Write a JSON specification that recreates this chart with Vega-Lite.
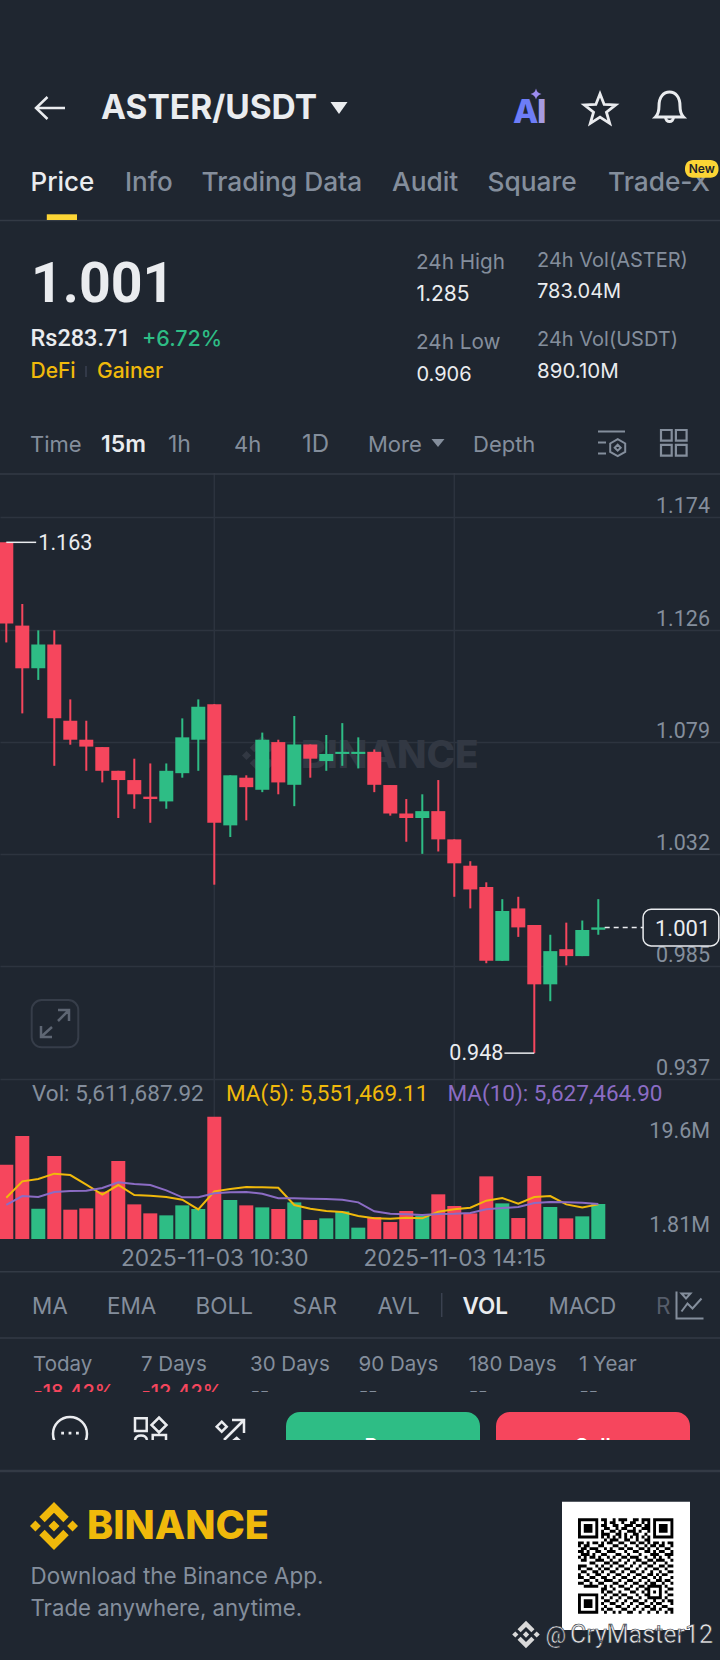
{"$schema":"https://vega.github.io/schema/vega-lite/v6.json","width":720,"height":1660,"padding":0,"autosize":{"type":"none"},"background":"#1f2630","view":{"stroke":null},
"config":{"view":{"stroke":null},"text":{"font":"Inter","baseline":"alphabetic","align":"left"},"axis":{"labelFont":"Inter"}},
"data":{"values":[{}]},
"datasets":{"candles":[
{"time":"2025-11-03T07:15","side":"down","open":1.1632,"high":1.1632,"low":1.1210,"close":1.1290,"vol":11910000,"ma5":6620000,"ma10":5450000},
{"time":"2025-11-03T07:30","side":"down","open":1.1281,"high":1.1372,"low":1.0911,"close":1.1101,"vol":16500000,"ma5":9240000,"ma10":6890000},
{"time":"2025-11-03T07:45","side":"up","open":1.1101,"high":1.1261,"low":1.1052,"close":1.1201,"vol":4860000,"ma5":9610000,"ma10":6730000},
{"time":"2025-11-03T08:00","side":"down","open":1.1201,"high":1.1261,"low":1.0690,"close":1.0890,"vol":13300000,"ma5":10470000,"ma10":7530000},
{"time":"2025-11-03T08:15","side":"down","open":1.0880,"high":1.0970,"low":1.0779,"close":1.0800,"vol":4700000,"ma5":10250000,"ma10":7690000},
{"time":"2025-11-03T08:30","side":"down","open":1.0800,"high":1.0880,"low":1.0669,"close":1.0771,"vol":4910000,"ma5":8710000,"ma10":7740000},
{"time":"2025-11-03T08:45","side":"down","open":1.0769,"high":1.0769,"low":1.0620,"close":1.0669,"vol":7580000,"ma5":7100000,"ma10":8170000},
{"time":"2025-11-03T09:00","side":"down","open":1.0669,"high":1.0669,"low":1.0470,"close":1.0630,"vol":12500000,"ma5":8650000,"ma10":9080000},
{"time":"2025-11-03T09:15","side":"down","open":1.0630,"high":1.0720,"low":1.0509,"close":1.0570,"vol":5550000,"ma5":7050000,"ma10":8810000},
{"time":"2025-11-03T09:30","side":"down","open":1.0560,"high":1.0700,"low":1.0450,"close":1.0550,"vol":4110000,"ma5":6940000,"ma10":8650000},
{"time":"2025-11-03T09:45","side":"up","open":1.0540,"high":1.0700,"low":1.0509,"close":1.0669,"vol":3790000,"ma5":6730000,"ma10":7800000},
{"time":"2025-11-03T10:00","side":"up","open":1.0659,"high":1.0890,"low":1.0640,"close":1.0810,"vol":5390000,"ma5":6300000,"ma10":6680000},
{"time":"2025-11-03T10:15","side":"up","open":1.0800,"high":1.0970,"low":1.0669,"close":1.0939,"vol":4810000,"ma5":4750000,"ma10":6680000},
{"time":"2025-11-03T10:30","side":"down","open":1.0950,"high":1.0950,"low":1.0189,"close":1.0450,"vol":19600000,"ma5":7640000,"ma10":7320000},
{"time":"2025-11-03T10:45","side":"up","open":1.0439,"high":1.0650,"low":1.0390,"close":1.0650,"vol":6250000,"ma5":8010000,"ma10":7480000},
{"time":"2025-11-03T11:00","side":"down","open":1.0640,"high":1.0650,"low":1.0460,"close":1.0600,"vol":5390000,"ma5":8330000,"ma10":7530000},
{"time":"2025-11-03T11:15","side":"up","open":1.0589,"high":1.0830,"low":1.0579,"close":1.0800,"vol":5070000,"ma5":8280000,"ma10":7260000},
{"time":"2025-11-03T11:30","side":"down","open":1.0790,"high":1.0800,"low":1.0570,"close":1.0620,"vol":4810000,"ma5":8220000,"ma10":6520000},
{"time":"2025-11-03T11:45","side":"up","open":1.0610,"high":1.0900,"low":1.0520,"close":1.0780,"vol":5870000,"ma5":5450000,"ma10":6520000},
{"time":"2025-11-03T12:00","side":"down","open":1.0780,"high":1.0780,"low":1.0640,"close":1.0720,"vol":3040000,"ma5":4860000,"ma10":6460000},
{"time":"2025-11-03T12:15","side":"up","open":1.0710,"high":1.0820,"low":1.0669,"close":1.0740,"vol":3310000,"ma5":4490000,"ma10":6410000},
{"time":"2025-11-03T12:30","side":"up","open":1.0740,"high":1.0870,"low":1.0690,"close":1.0749,"vol":4430000,"ma5":4330000,"ma10":6300000},
{"time":"2025-11-03T12:45","side":"up","open":1.0740,"high":1.0810,"low":1.0679,"close":1.0749,"vol":1820000,"ma5":3680000,"ma10":5870000},
{"time":"2025-11-03T13:00","side":"down","open":1.0749,"high":1.0759,"low":1.0579,"close":1.0610,"vol":3520000,"ma5":3310000,"ma10":4430000},
{"time":"2025-11-03T13:15","side":"down","open":1.0609,"high":1.0609,"low":1.0480,"close":1.0489,"vol":2720000,"ma5":3260000,"ma10":4060000},
{"time":"2025-11-03T13:30","side":"down","open":1.0489,"high":1.0550,"low":1.0370,"close":1.0470,"vol":4490000,"ma5":3420000,"ma10":3950000},
{"time":"2025-11-03T13:45","side":"up","open":1.0470,"high":1.0570,"low":1.0319,"close":1.0499,"vol":3740000,"ma5":3310000,"ma10":3850000},
{"time":"2025-11-03T14:00","side":"down","open":1.0499,"high":1.0630,"low":1.0329,"close":1.0380,"vol":7160000,"ma5":4380000,"ma10":4010000},
{"time":"2025-11-03T14:15","side":"down","open":1.0380,"high":1.0380,"low":1.0138,"close":1.0279,"vol":5290000,"ma5":4750000,"ma10":4060000},
{"time":"2025-11-03T14:30","side":"down","open":1.0269,"high":1.0288,"low":1.0089,"close":1.0169,"vol":4110000,"ma5":5020000,"ma10":4170000},
{"time":"2025-11-03T14:45","side":"down","open":1.0179,"high":1.0199,"low":0.9858,"close":0.9868,"vol":10040000,"ma5":6140000,"ma10":4750000},
{"time":"2025-11-03T15:00","side":"up","open":0.9868,"high":1.0128,"low":0.9868,"close":1.0078,"vol":5710000,"ma5":6570000,"ma10":4970000},
{"time":"2025-11-03T15:15","side":"down","open":1.0089,"high":1.0138,"low":0.9969,"close":1.0009,"vol":3360000,"ma5":5660000,"ma10":5130000},
{"time":"2025-11-03T15:30","side":"down","open":1.0019,"high":1.0019,"low":0.9479,"close":0.9769,"vol":10090000,"ma5":6730000,"ma10":5770000},
{"time":"2025-11-03T15:45","side":"up","open":0.9769,"high":0.9978,"low":0.9698,"close":0.9909,"vol":5130000,"ma5":6890000,"ma10":5930000},
{"time":"2025-11-03T16:00","side":"down","open":0.9917,"high":1.0029,"low":0.9849,"close":0.9888,"vol":3310000,"ma5":5550000,"ma10":5870000},
{"time":"2025-11-03T16:15","side":"up","open":0.9888,"high":1.0038,"low":0.9888,"close":0.9998,"vol":3630000,"ma5":5070000,"ma10":5820000},
{"time":"2025-11-03T16:30","side":"up","open":0.9999,"high":1.0128,"low":0.9978,"close":1.0009,"vol":5611687.92,"ma5":5551469.11,"ma10":5627464.90}
]},
"resolve":{"scale":{"x":"independent","y":"independent"}},
"layer":[
{"layer":[
{"mark":{"type":"text","fontSize":38.6,"fontWeight":800,"color":"#323843"},"encoding":{"x":{"datum":301,"axis":null,"scale":{"domain":[0,720],"range":[0,720],"nice":false}},"y":{"datum":768,"axis":null,"scale":{"domain":[0,1660],"range":[0,1660],"nice":false}},"text":{"value":"BINANCE"}}},
{"mark":{"type":"point","shape":"M-24.57 -10.1 L0 -34.66 L24.58 -10.08 L38.88 -24.38 L0 -63.3 L-38.87 -24.43 Z M-63.3 0 L-49 -14.3 L-34.7 0 L-49 14.3 Z M-24.57 10.11 L0 34.67 L24.58 10.09 L38.88 24.39 L0 63.3 L-38.87 24.44 Z M34.7 0 L49 -14.3 L63.3 0 L49 14.3 Z M14.53 0 L0 -14.52 L-14.53 0 L0 14.53 Z","size":0.4,"filled":true,"opacity":1,"color":"#323843"},"encoding":{"x":{"datum":262,"axis":null},"y":{"datum":755.5,"axis":null}}}
]},
{"layer":[
{"data":{"values":[{"time":"2025-11-03T10:30"},{"time":"2025-11-03T14:15"}]},"mark":{"type":"rule","color":"#2d343f","strokeWidth":1.4},"encoding":{"x":{"field":"time","type":"temporal","scale":{"domain":["2025-11-03T07:09:06","2025-11-03T18:24:06"],"range":[0,720],"padding":0},"axis":{"orient":"bottom","offset":-421,"values":[{"year":2025,"month":11,"date":3,"hours":10,"minutes":30},{"year":2025,"month":11,"date":3,"hours":14,"minutes":15}],"format":"%Y-%m-%d %H:%M","grid":false,"ticks":false,"domain":false,"labelPadding":26,"labelBaseline":"alphabetic","labelFontSize":22.6,"labelLimit":400,"labelColor":"#848e9c","labelOverlap":false,"labelFlush":false,"title":null}},"y":{"datum":1.1924,"axis":{"orient":"right","values":[1.174,1.1264,1.0792,1.0318,0.9846,0.937],"format":".3f","grid":true,"gridColor":"#2d343f","gridWidth":1.4,"ticks":false,"domain":false,"labelAlign":"right","labelBaseline":"alphabetic","labelPadding":-10.5,"labelOffset":-4.5,"labelFont":"Roboto","labelFontSize":21.5,"labelColor":"#848e9c","title":null},"scale":{"domain":[0.937,1.174],"range":[1079,516.7],"zero":false,"nice":false}},"y2":{"datum":0.8695}}},
{"data":{"name":"candles"},"mark":{"type":"rule","strokeWidth":2},"encoding":{"x":{"field":"time","type":"temporal"},"y":{"field":"high","type":"quantitative"},"y2":{"field":"low"},"color":{"field":"side","type":"nominal","legend":null,"scale":{"domain":["up","down"],"range":["#2ebd85","#f6465d"]}}}},
{"data":{"name":"candles"},"mark":{"type":"bar","size":14},"encoding":{"x":{"field":"time","type":"temporal"},"y":{"field":"open","type":"quantitative"},"y2":{"field":"close"},"color":{"field":"side","type":"nominal","legend":null}}},
{"data":{"values":[{"time":"2025-11-03T07:15","end":"2025-11-03T07:43","price":1.1632},{"time":"2025-11-03T15:02","end":"2025-11-03T15:30","price":0.9479}]},"mark":{"type":"rule","color":"#eaecef","strokeWidth":1.5},"encoding":{"x":{"field":"time","type":"temporal"},"x2":{"field":"end"},"y":{"field":"price","type":"quantitative"}}},
{"data":{"values":[{"time":"2025-11-03T07:45","price":1.1632,"label":"1.163"}]},"mark":{"type":"text","font":"Roboto","fontSize":21.5,"color":"#eaecef","dy":7.5},"encoding":{"x":{"field":"time","type":"temporal"},"y":{"field":"price","type":"quantitative"},"text":{"field":"label"}}},
{"data":{"values":[{"time":"2025-11-03T15:01","price":0.9479,"label":"0.948"}]},"mark":{"type":"text","font":"Roboto","fontSize":21.5,"color":"#eaecef","align":"right","dy":7},"encoding":{"x":{"field":"time","type":"temporal"},"y":{"field":"price","type":"quantitative"},"text":{"field":"label"}}},
{"data":{"values":[{"time":"2025-11-03T16:36","end":"2025-11-03T17:12","price":1.0009}]},"mark":{"type":"rule","color":"#eaecef","strokeWidth":1.5,"strokeDash":[5,4]},"encoding":{"x":{"field":"time","type":"temporal"},"x2":{"field":"end"},"y":{"field":"price","type":"quantitative"}}},
{"data":{"values":[{"time":"2025-11-03T17:12","end":"2025-11-03T18:23","top":1.0085,"bottom":0.9931}]},"mark":{"type":"rect","fill":"#1f2630","stroke":"#eaecef","strokeWidth":1.5,"cornerRadius":8},"encoding":{"x":{"field":"time","type":"temporal"},"x2":{"field":"end"},"y":{"field":"top","type":"quantitative"},"y2":{"field":"bottom"}}}
]},
{"data":{"name":"candles"},"layer":[
{"mark":{"type":"bar","size":14},"encoding":{"x":{"field":"time","type":"temporal","axis":null,"scale":{"domain":["2025-11-03T07:09:06","2025-11-03T18:24:06"],"range":[0,720],"padding":0}},"y":{"field":"vol","type":"quantitative","scale":{"domain":[0,19600000],"range":[1239,1116.7],"nice":false},"axis":{"orient":"right","values":[19600000,1810000],"labelExpr":"format(datum.value/1000000,'.3~r')+'M'","grid":false,"ticks":false,"domain":false,"labelAlign":"right","labelBaseline":"middle","labelPadding":-10.5,"labelOffset":{"expr":"datum.value>10000000?15:-2"},"labelFont":"Roboto","labelFontSize":21.5,"labelColor":"#848e9c","title":null}},"color":{"field":"side","type":"nominal","legend":null,"scale":{"domain":["up","down"],"range":["#2ebd85","#f6465d"]}}}},
{"mark":{"type":"line","color":"#f0b90b","strokeWidth":2},"encoding":{"x":{"field":"time","type":"temporal","axis":null},"y":{"field":"ma5","type":"quantitative"}}},
{"mark":{"type":"line","color":"#8b6cc4","strokeWidth":2},"encoding":{"x":{"field":"time","type":"temporal","axis":null},"y":{"field":"ma10","type":"quantitative"}}}
]},
{"layer":[
{"mark":{"type":"text","fontSize":33.5,"fontWeight":700,"color":"#eaecef"},"encoding":{"x":{"datum":101,"axis":null,"scale":{"domain":[0,720],"range":[0,720],"nice":false}},"y":{"datum":119.3,"axis":null,"scale":{"domain":[0,1660],"range":[0,1660],"nice":false}},"text":{"value":"ASTER/USDT"}}},
{"mark":{"type":"point","shape":"M-14.5 0 H14.5 M-3 -11 L-14.5 0 L-3 11","size":4,"filled":false,"opacity":1,"color":"#eaecef","strokeWidth":2.5},"encoding":{"x":{"datum":50.5,"axis":null},"y":{"datum":108,"axis":null}}},
{"mark":{"type":"point","shape":"M-8.5 -6 H8.5 L0 6 Z","size":4,"filled":true,"opacity":1,"color":"#eaecef"},"encoding":{"x":{"datum":339,"axis":null},"y":{"datum":108,"axis":null}}},
{"mark":{"type":"text","fontSize":33,"fontWeight":800,"color":"#6d7df7"},"encoding":{"x":{"datum":513,"axis":null},"y":{"datum":123,"axis":null},"text":{"value":"A"}}},
{"mark":{"type":"text","fontSize":33,"fontWeight":800,"color":"#a79be0"},"encoding":{"x":{"datum":537,"axis":null},"y":{"datum":123,"axis":null},"text":{"value":"I"}}},
{"mark":{"type":"point","shape":"M0 -5.5 Q1 -1 5.5 0 Q1 1 0 5.5 Q-1 1 -5.5 0 Q-1 -1 0 -5.5 Z","size":4,"filled":true,"opacity":1,"color":"#9c8cf0"},"encoding":{"x":{"datum":536,"axis":null},"y":{"datum":94,"axis":null}}},
{"mark":{"type":"point","shape":"M0 -17 L4.5 -5.5 L17 -5 L7 3 L10.5 15 L0 8.3 L-10.5 15 L-7 3 L-17 -5 L-4.5 -5.5 Z","size":3.4,"filled":false,"opacity":1,"color":"#eaecef","strokeWidth":2.8},"encoding":{"x":{"datum":600,"axis":null},"y":{"datum":109.5,"axis":null}}},
{"mark":{"type":"point","shape":"M-14 9 C-11 6 -10.5 3 -10.5 -2 C-10.5 -11 -6 -16 0 -16 C6 -16 10.5 -11 10.5 -2 C10.5 3 11 6 14 9 Z M-4 9 C-4 15 4 15 4 9","size":4,"filled":false,"opacity":1,"color":"#eaecef","strokeWidth":3},"encoding":{"x":{"datum":669.5,"axis":null},"y":{"datum":108,"axis":null}}},
{"mark":{"type":"text","fontSize":26,"fontWeight":500,"color":"#eaecef"},"encoding":{"x":{"datum":30.5,"axis":null},"y":{"datum":191,"axis":null},"text":{"value":"Price"}}},
{"mark":{"type":"text","fontSize":26,"fontWeight":500,"color":"#848e9c"},"encoding":{"x":{"datum":125,"axis":null},"y":{"datum":191,"axis":null},"text":{"value":"Info"}}},
{"mark":{"type":"text","fontSize":26.3,"fontWeight":500,"color":"#848e9c"},"encoding":{"x":{"datum":201.5,"axis":null},"y":{"datum":191,"axis":null},"text":{"value":"Trading Data"}}},
{"mark":{"type":"text","fontSize":26.3,"fontWeight":500,"color":"#848e9c"},"encoding":{"x":{"datum":392,"axis":null},"y":{"datum":191,"axis":null},"text":{"value":"Audit"}}},
{"mark":{"type":"text","fontSize":26.3,"fontWeight":500,"color":"#848e9c"},"encoding":{"x":{"datum":487.5,"axis":null},"y":{"datum":191,"axis":null},"text":{"value":"Square"}}},
{"mark":{"type":"text","fontSize":26.3,"fontWeight":500,"color":"#848e9c"},"encoding":{"x":{"datum":608,"axis":null},"y":{"datum":191,"axis":null},"text":{"value":"Trade-X"}}},
{"mark":{"type":"rect","fill":"#fcd535","cornerRadius":8},"encoding":{"x":{"datum":685,"axis":null},"x2":{"datum":718.5},"y":{"datum":160,"axis":null},"y2":{"datum":177.7}}},
{"mark":{"type":"text","fontSize":12,"fontWeight":600,"color":"#1e2329","align":"center"},"encoding":{"x":{"datum":701.7,"axis":null},"y":{"datum":173.3,"axis":null},"text":{"value":"New"}}},
{"mark":{"type":"rule","color":"#333a45","strokeWidth":1.5},"encoding":{"x":{"datum":0,"axis":null},"x2":{"datum":720},"y":{"datum":220.5,"axis":null}}},
{"mark":{"type":"rect","fill":"#fcd535"},"encoding":{"x":{"datum":46.8,"axis":null},"x2":{"datum":77},"y":{"datum":214.3,"axis":null},"y2":{"datum":220}}},
{"mark":{"type":"text","font":"Roboto","fontSize":55.5,"fontWeight":700,"color":"#eaecef"},"encoding":{"x":{"datum":31,"axis":null},"y":{"datum":301.7,"axis":null},"text":{"value":"1.001"}}},
{"mark":{"type":"text","font":"Roboto","fontSize":23.5,"fontWeight":500,"color":"#eaecef"},"encoding":{"x":{"datum":30.5,"axis":null},"y":{"datum":345.7,"axis":null},"text":{"value":"Rs283.71"}}},
{"mark":{"type":"text","fontSize":21.5,"fontWeight":500,"color":"#2ebd85"},"encoding":{"x":{"datum":142,"axis":null},"y":{"datum":345.7,"axis":null},"text":{"value":"+6.72%"}}},
{"mark":{"type":"text","fontSize":21,"fontWeight":500,"color":"#f0b90b"},"encoding":{"x":{"datum":30.5,"axis":null},"y":{"datum":377.7,"axis":null},"text":{"value":"DeFi"}}},
{"mark":{"type":"rule","color":"#3a4150","strokeWidth":1.5},"encoding":{"x":{"datum":86,"axis":null},"y":{"datum":366,"axis":null},"y2":{"datum":377}}},
{"mark":{"type":"text","fontSize":21,"fontWeight":500,"color":"#f0b90b"},"encoding":{"x":{"datum":97,"axis":null},"y":{"datum":377.7,"axis":null},"text":{"value":"Gainer"}}},
{"mark":{"type":"text","fontSize":20.7,"color":"#848e9c"},"encoding":{"x":{"datum":416,"axis":null},"y":{"datum":269,"axis":null},"text":{"value":"24h High"}}},
{"mark":{"type":"text","fontSize":21,"color":"#eaecef"},"encoding":{"x":{"datum":416.4,"axis":null},"y":{"datum":300.7,"axis":null},"text":{"value":"1.285"}}},
{"mark":{"type":"text","fontSize":20.7,"color":"#848e9c"},"encoding":{"x":{"datum":416,"axis":null},"y":{"datum":349,"axis":null},"text":{"value":"24h Low"}}},
{"mark":{"type":"text","fontSize":20,"color":"#eaecef"},"encoding":{"x":{"datum":416.4,"axis":null},"y":{"datum":380.7,"axis":null},"text":{"value":"0.906"}}},
{"mark":{"type":"text","fontSize":20,"color":"#848e9c"},"encoding":{"x":{"datum":537,"axis":null},"y":{"datum":267,"axis":null},"text":{"value":"24h Vol(ASTER)"}}},
{"mark":{"type":"text","fontSize":20,"color":"#eaecef"},"encoding":{"x":{"datum":537,"axis":null},"y":{"datum":298,"axis":null},"text":{"value":"783.04M"}}},
{"mark":{"type":"text","fontSize":20,"color":"#848e9c"},"encoding":{"x":{"datum":537,"axis":null},"y":{"datum":346,"axis":null},"text":{"value":"24h Vol(USDT)"}}},
{"mark":{"type":"text","fontSize":20.5,"color":"#eaecef"},"encoding":{"x":{"datum":537,"axis":null},"y":{"datum":378,"axis":null},"text":{"value":"890.10M"}}},
{"mark":{"type":"text","fontSize":22,"color":"#848e9c"},"encoding":{"x":{"datum":30,"axis":null},"y":{"datum":451.7,"axis":null},"text":{"value":"Time"}}},
{"mark":{"type":"text","fontSize":23,"fontWeight":600,"color":"#eaecef"},"encoding":{"x":{"datum":101,"axis":null},"y":{"datum":451.7,"axis":null},"text":{"value":"15m"}}},
{"mark":{"type":"text","fontSize":23,"color":"#848e9c"},"encoding":{"x":{"datum":168,"axis":null},"y":{"datum":451.7,"axis":null},"text":{"value":"1h"}}},
{"mark":{"type":"text","fontSize":22,"color":"#848e9c"},"encoding":{"x":{"datum":234,"axis":null},"y":{"datum":451.7,"axis":null},"text":{"value":"4h"}}},
{"mark":{"type":"text","fontSize":24,"color":"#848e9c"},"encoding":{"x":{"datum":302,"axis":null},"y":{"datum":451.7,"axis":null},"text":{"value":"1D"}}},
{"mark":{"type":"text","fontSize":22,"color":"#848e9c"},"encoding":{"x":{"datum":368,"axis":null},"y":{"datum":451.7,"axis":null},"text":{"value":"More"}}},
{"mark":{"type":"point","shape":"M-6.5 -4 H6.5 L0 4 Z","size":4,"filled":true,"opacity":1,"color":"#848e9c"},"encoding":{"x":{"datum":438,"axis":null},"y":{"datum":443,"axis":null}}},
{"mark":{"type":"text","fontSize":22,"color":"#848e9c"},"encoding":{"x":{"datum":473,"axis":null},"y":{"datum":451.7,"axis":null},"text":{"value":"Depth"}}},
{"mark":{"type":"point","shape":"M-13.5 -11 H13.5 M-13.5 0 H-5.5 M-13.5 11 H-5.5 M6.2 -3.3 L13.7 1 V9.4 L6.2 13.7 L-1.3 9.4 V1 Z M6.2 2.2 L9.2 5.2 L6.2 8.2 L3.2 5.2 Z","size":4,"filled":false,"opacity":1,"color":"#848e9c","strokeWidth":2},"encoding":{"x":{"datum":611.5,"axis":null},"y":{"datum":442.5,"axis":null}}},
{"mark":{"type":"point","shape":"M-12.8 -12.8 H-2.1 V-2.1 H-12.8 Z M2.1 -12.8 H12.8 V-2.1 H2.1 Z M-12.8 2.1 H-2.1 V12.8 H-12.8 Z M2.1 2.1 H12.8 V12.8 H2.1 Z","size":4,"filled":false,"opacity":1,"color":"#848e9c","strokeWidth":2.2},"encoding":{"x":{"datum":673.8,"axis":null},"y":{"datum":442.8,"axis":null}}},
{"mark":{"type":"rule","color":"#333a45","strokeWidth":1.5},"encoding":{"x":{"datum":0,"axis":null},"x2":{"datum":720},"y":{"datum":474,"axis":null}}},
{"mark":{"type":"rect","fill":"transparent","stroke":"#363d49","strokeWidth":2,"cornerRadius":10},"encoding":{"x":{"datum":31.7,"axis":null},"x2":{"datum":78.3},"y":{"datum":1000,"axis":null},"y2":{"datum":1047.3}}},
{"mark":{"type":"point","shape":"M-13 12 L-3 3 M3 -3 L13 -13 M3 -14 H14 V-3 M-14 2 V13 H-3","size":4,"filled":false,"opacity":1,"color":"#5e6673","strokeWidth":2.5},"encoding":{"x":{"datum":55,"axis":null},"y":{"datum":1024,"axis":null}}},
{"mark":{"type":"text","font":"Roboto","fontSize":22,"color":"#eaecef"},"encoding":{"x":{"datum":655,"axis":null},"y":{"datum":936,"axis":null},"text":{"value":"1.001"}}},
{"mark":{"type":"text","font":"Roboto","fontSize":22.5,"color":"#848e9c"},"encoding":{"x":{"datum":32,"axis":null},"y":{"datum":1101,"axis":null},"text":{"value":"Vol: 5,611,687.92"}}},
{"mark":{"type":"text","font":"Roboto","fontSize":22.5,"color":"#f0b90b"},"encoding":{"x":{"datum":226,"axis":null},"y":{"datum":1101,"axis":null},"text":{"value":"MA(5): 5,551,469.11"}}},
{"mark":{"type":"text","font":"Roboto","fontSize":22.5,"color":"#8b6cc4"},"encoding":{"x":{"datum":447.5,"axis":null},"y":{"datum":1101,"axis":null},"text":{"value":"MA(10): 5,627,464.90"}}},
{"mark":{"type":"rule","color":"#333a45","strokeWidth":1.5},"encoding":{"x":{"datum":0,"axis":null},"x2":{"datum":720},"y":{"datum":1271.7,"axis":null}}},
{"mark":{"type":"text","fontSize":22.5,"color":"#848e9c"},"encoding":{"x":{"datum":32,"axis":null},"y":{"datum":1314,"axis":null},"text":{"value":"MA"}}},
{"mark":{"type":"text","fontSize":22.5,"color":"#848e9c"},"encoding":{"x":{"datum":107,"axis":null},"y":{"datum":1314,"axis":null},"text":{"value":"EMA"}}},
{"mark":{"type":"text","fontSize":22.5,"color":"#848e9c"},"encoding":{"x":{"datum":195.5,"axis":null},"y":{"datum":1314,"axis":null},"text":{"value":"BOLL"}}},
{"mark":{"type":"text","fontSize":22.5,"color":"#848e9c"},"encoding":{"x":{"datum":292.5,"axis":null},"y":{"datum":1314,"axis":null},"text":{"value":"SAR"}}},
{"mark":{"type":"text","fontSize":22.5,"color":"#848e9c"},"encoding":{"x":{"datum":377.5,"axis":null},"y":{"datum":1314,"axis":null},"text":{"value":"AVL"}}},
{"mark":{"type":"rule","color":"#3a4150","strokeWidth":1.5},"encoding":{"x":{"datum":441.7,"axis":null},"y":{"datum":1293,"axis":null},"y2":{"datum":1317}}},
{"mark":{"type":"text","fontSize":22.5,"fontWeight":600,"color":"#eaecef"},"encoding":{"x":{"datum":462.5,"axis":null},"y":{"datum":1314,"axis":null},"text":{"value":"VOL"}}},
{"mark":{"type":"text","fontSize":22.5,"color":"#848e9c"},"encoding":{"x":{"datum":548.5,"axis":null},"y":{"datum":1314,"axis":null},"text":{"value":"MACD"}}},
{"mark":{"type":"text","fontSize":22.5,"color":"#565d6a"},"encoding":{"x":{"datum":656,"axis":null},"y":{"datum":1314,"axis":null},"text":{"value":"R"}}},
{"mark":{"type":"point","shape":"M-13 -14 V13 H14 M-8 6 L-2 -2 L3 3 L12 -7 M-8 -12 H1 L-3.5 -7 Z","size":4,"filled":false,"opacity":1,"color":"#848e9c","strokeWidth":2},"encoding":{"x":{"datum":689.5,"axis":null},"y":{"datum":1305.5,"axis":null}}},
{"mark":{"type":"rule","color":"#333a45","strokeWidth":1.5},"encoding":{"x":{"datum":0,"axis":null},"x2":{"datum":720},"y":{"datum":1338,"axis":null}}},
{"mark":{"type":"text","fontSize":20.5,"color":"#848e9c"},"encoding":{"x":{"datum":33,"axis":null},"y":{"datum":1370.7,"axis":null},"text":{"value":"Today"}}},
{"mark":{"type":"text","fontSize":20.5,"color":"#848e9c"},"encoding":{"x":{"datum":141,"axis":null},"y":{"datum":1370.7,"axis":null},"text":{"value":"7 Days"}}},
{"mark":{"type":"text","fontSize":20.5,"color":"#848e9c"},"encoding":{"x":{"datum":250,"axis":null},"y":{"datum":1370.7,"axis":null},"text":{"value":"30 Days"}}},
{"mark":{"type":"text","fontSize":20.5,"color":"#848e9c"},"encoding":{"x":{"datum":358.5,"axis":null},"y":{"datum":1370.7,"axis":null},"text":{"value":"90 Days"}}},
{"mark":{"type":"text","fontSize":20.5,"color":"#848e9c"},"encoding":{"x":{"datum":468.5,"axis":null},"y":{"datum":1370.7,"axis":null},"text":{"value":"180 Days"}}},
{"mark":{"type":"text","fontSize":20.5,"color":"#848e9c"},"encoding":{"x":{"datum":579,"axis":null},"y":{"datum":1370.7,"axis":null},"text":{"value":"1 Year"}}},
{"mark":{"type":"text","fontSize":20,"fontWeight":500,"color":"#f6465d"},"encoding":{"x":{"datum":33.5,"axis":null},"y":{"datum":1398.5,"axis":null},"text":{"value":"-18.42%"}}},
{"mark":{"type":"text","fontSize":20,"fontWeight":500,"color":"#f6465d"},"encoding":{"x":{"datum":141.4,"axis":null},"y":{"datum":1398.5,"axis":null},"text":{"value":"-12.42%"}}},
{"mark":{"type":"text","fontSize":20,"color":"#848e9c"},"encoding":{"x":{"datum":250.7,"axis":null},"y":{"datum":1398,"axis":null},"text":{"value":"--"}}},
{"mark":{"type":"text","fontSize":20,"color":"#848e9c"},"encoding":{"x":{"datum":359,"axis":null},"y":{"datum":1398,"axis":null},"text":{"value":"--"}}},
{"mark":{"type":"text","fontSize":20,"color":"#848e9c"},"encoding":{"x":{"datum":469,"axis":null},"y":{"datum":1398,"axis":null},"text":{"value":"--"}}},
{"mark":{"type":"text","fontSize":20,"color":"#848e9c"},"encoding":{"x":{"datum":579.5,"axis":null},"y":{"datum":1398,"axis":null},"text":{"value":"--"}}},
{"mark":{"type":"rect","fill":"#1f2630"},"encoding":{"x":{"datum":0,"axis":null},"x2":{"datum":720},"y":{"datum":1392,"axis":null},"y2":{"datum":1412}}},
{"mark":{"type":"point","shape":"M-17 0 A17 17 0 1 1 17 0 A17 17 0 1 1 -17 0 Z","size":4,"filled":false,"opacity":1,"color":"#eaecef","strokeWidth":2.5},"encoding":{"x":{"datum":70,"axis":null},"y":{"datum":1434,"axis":null}}},
{"mark":{"type":"point","shape":"M-8.8 -1.7 H-6 V1.1 H-8.8 Z M-1.4 -1.7 H1.4 V1.1 H-1.4 Z M6 -1.7 H8.8 V1.1 H6 Z","size":4,"filled":true,"opacity":1,"color":"#eaecef"},"encoding":{"x":{"datum":70,"axis":null},"y":{"datum":1433.5,"axis":null}}},
{"mark":{"type":"point","shape":"M-13 -11.7 H-1.3 V1 H-13 Z M11 -12.5 L18.5 -5 L11 2.5 L3.5 -5 Z M-13 10 C-12 4 -2 4 -1 10 M4.7 10 V5 H18 V10","size":4,"filled":false,"opacity":1,"color":"#eaecef","strokeWidth":2.5},"encoding":{"x":{"datum":148,"axis":null},"y":{"datum":1430,"axis":null}}},
{"mark":{"type":"point","shape":"M-8.3 -8.3 L-3.3 -3.3 L-8.3 1.7 L-13.3 -3.3 Z M-6 10 L14 -10 M2 -10 H14 V3 M6.7 8 L10 11 H3 Z","size":4,"filled":false,"opacity":1,"color":"#eaecef","strokeWidth":2.5},"encoding":{"x":{"datum":230,"axis":null},"y":{"datum":1430,"axis":null}}},
{"mark":{"type":"rect","fill":"#2ebd85","cornerRadius":14},"encoding":{"x":{"datum":286,"axis":null},"x2":{"datum":480},"y":{"datum":1412,"axis":null},"y2":{"datum":1468}}},
{"mark":{"type":"rect","fill":"#f6465d","cornerRadius":14},"encoding":{"x":{"datum":496,"axis":null},"x2":{"datum":690},"y":{"datum":1412,"axis":null},"y2":{"datum":1468}}},
{"mark":{"type":"text","fontSize":20,"fontWeight":600,"color":"#ffffff","align":"center"},"encoding":{"x":{"datum":383,"axis":null},"y":{"datum":1453,"axis":null},"text":{"value":"Buy"}}},
{"mark":{"type":"text","fontSize":20,"fontWeight":600,"color":"#ffffff","align":"center"},"encoding":{"x":{"datum":593,"axis":null},"y":{"datum":1453,"axis":null},"text":{"value":"Sell"}}},
{"mark":{"type":"rect","fill":"#1f2630"},"encoding":{"x":{"datum":0,"axis":null},"x2":{"datum":720},"y":{"datum":1440,"axis":null},"y2":{"datum":1470}}},
{"mark":{"type":"rule","color":"#333a45","strokeWidth":2.5},"encoding":{"x":{"datum":0,"axis":null},"x2":{"datum":720},"y":{"datum":1471,"axis":null}}},
{"mark":{"type":"point","shape":"M-24.57 -10.1 L0 -34.66 L24.58 -10.08 L38.88 -24.38 L0 -63.3 L-38.87 -24.43 Z M-63.3 0 L-49 -14.3 L-34.7 0 L-49 14.3 Z M-24.57 10.11 L0 34.67 L24.58 10.09 L38.88 24.39 L0 63.3 L-38.87 24.44 Z M34.7 0 L49 -14.3 L63.3 0 L49 14.3 Z M14.53 0 L0 -14.52 L-14.53 0 L0 14.53 Z","size":0.575,"filled":true,"opacity":1,"color":"#f0b90b"},"encoding":{"x":{"datum":54,"axis":null},"y":{"datum":1526,"axis":null}}},
{"mark":{"type":"text","fontSize":39.5,"fontWeight":800,"color":"#f0b90b"},"encoding":{"x":{"datum":87,"axis":null},"y":{"datum":1538.7,"axis":null},"text":{"value":"BINANCE"}}},
{"mark":{"type":"text","fontSize":22.4,"color":"#848e9c"},"encoding":{"x":{"datum":30.5,"axis":null},"y":{"datum":1584,"axis":null},"text":{"value":"Download the Binance App."}}},
{"mark":{"type":"text","fontSize":22.2,"color":"#848e9c"},"encoding":{"x":{"datum":30.5,"axis":null},"y":{"datum":1616,"axis":null},"text":{"value":"Trade anywhere, anytime."}}},
{"mark":{"type":"rect","fill":"#ffffff"},"encoding":{"x":{"datum":562,"axis":null},"x2":{"datum":690},"y":{"datum":1501.7,"axis":null},"y2":{"datum":1630}}},
{"mark":{"type":"point","shape":"M0 0.5h7M8 0.5h2M12 0.5h1M14 0.5h3M19 0.5h2M22 0.5h3M26 0.5h7M0 1.5h1M6 1.5h1M9 1.5h1M11 1.5h2M15 1.5h1M18 1.5h2M22 1.5h1M24 1.5h1M26 1.5h1M32 1.5h1M0 2.5h1M2 2.5h3M6 2.5h1M8 2.5h2M12 2.5h2M16 2.5h3M20 2.5h2M23 2.5h2M26 2.5h1M28 2.5h3M32 2.5h1M0 3.5h1M2 3.5h3M6 3.5h1M9 3.5h2M13 3.5h1M15 3.5h2M19 3.5h1M22 3.5h3M26 3.5h1M28 3.5h3M32 3.5h1M0 4.5h1M2 4.5h3M6 4.5h1M8 4.5h1M11 4.5h2M14 4.5h1M17 4.5h3M21 4.5h1M24 4.5h1M26 4.5h1M28 4.5h3M32 4.5h1M0 5.5h1M6 5.5h1M8 5.5h3M13 5.5h2M16 5.5h1M19 5.5h2M23 5.5h1M26 5.5h1M32 5.5h1M0 6.5h7M8 6.5h1M10 6.5h1M12 6.5h1M14 6.5h1M16 6.5h1M18 6.5h1M20 6.5h1M22 6.5h1M24 6.5h1M26 6.5h7M9 7.5h1M11 7.5h3M16 7.5h2M20 7.5h1M23 7.5h2M0 8.5h2M3 8.5h1M5 8.5h2M8 8.5h1M10 8.5h2M14 8.5h2M18 8.5h2M21 8.5h2M24 8.5h1M26 8.5h2M29 8.5h1M31 8.5h2M0 9.5h1M2 9.5h2M7 9.5h2M12 9.5h2M16 9.5h1M20 9.5h1M23 9.5h1M25 9.5h2M28 9.5h2M32 9.5h1M1 10.5h2M4 10.5h3M9 10.5h1M11 10.5h1M14 10.5h2M17 10.5h2M21 10.5h2M24 10.5h1M27 10.5h1M30 10.5h2M0 11.5h2M3 11.5h1M6 11.5h2M10 11.5h3M16 11.5h1M19 11.5h2M23 11.5h2M26 11.5h1M28 11.5h2M32 11.5h1M1 12.5h3M5 12.5h1M8 12.5h2M13 12.5h2M17 12.5h1M21 12.5h1M25 12.5h3M30 12.5h3M0 13.5h1M2 13.5h1M4 13.5h2M7 13.5h1M10 13.5h1M12 13.5h1M15 13.5h2M18 13.5h3M23 13.5h1M26 13.5h1M28 13.5h1M31 13.5h1M1 14.5h2M6 14.5h3M11 14.5h1M14 14.5h1M17 14.5h1M20 14.5h2M24 14.5h2M27 14.5h3M32 14.5h1M4 15.5h2M9 15.5h2M12 15.5h2M16 15.5h1M19 15.5h1M22 15.5h2M26 15.5h1M30 15.5h1M0 16.5h3M6 16.5h1M8 16.5h1M11 16.5h1M14 16.5h2M18 16.5h1M21 16.5h1M24 16.5h2M28 16.5h2M31 16.5h2M0 17.5h1M3 17.5h2M7 17.5h1M9 17.5h2M13 17.5h1M16 17.5h2M20 17.5h1M23 17.5h1M26 17.5h2M30 17.5h1M1 18.5h2M5 18.5h2M8 18.5h1M11 18.5h2M15 18.5h1M18 18.5h2M22 18.5h1M25 18.5h1M28 18.5h1M31 18.5h2M0 19.5h1M3 19.5h1M6 19.5h2M10 19.5h1M13 19.5h2M17 19.5h1M20 19.5h2M24 19.5h2M27 19.5h1M29 19.5h2M0 20.5h2M4 20.5h2M8 20.5h2M12 20.5h1M15 20.5h2M19 20.5h1M22 20.5h2M26 20.5h1M28 20.5h1M32 20.5h1M2 21.5h2M6 21.5h1M9 21.5h3M14 21.5h1M17 21.5h2M21 21.5h1M24 21.5h1M27 21.5h2M30 21.5h2M0 22.5h2M4 22.5h1M7 22.5h2M12 22.5h2M16 22.5h1M19 22.5h2M23 22.5h1M25 22.5h2M29 22.5h1M32 22.5h1M2 23.5h5M9 23.5h1M11 23.5h1M14 23.5h2M18 23.5h1M21 23.5h2M24 23.5h5M30 23.5h1M8 24.5h2M12 24.5h1M16 24.5h2M20 24.5h1M23 24.5h2M28 24.5h1M31 24.5h2M8 25.5h1M10 25.5h2M14 25.5h1M18 25.5h2M22 25.5h1M24 25.5h1M26 25.5h1M28 25.5h1M30 25.5h1M0 26.5h7M9 26.5h1M12 26.5h2M15 26.5h2M20 26.5h1M23 26.5h2M28 26.5h1M31 26.5h2M0 27.5h1M6 27.5h1M8 27.5h1M11 27.5h1M14 27.5h1M17 27.5h2M21 27.5h1M24 27.5h5M30 27.5h1M0 28.5h1M2 28.5h3M6 28.5h1M9 28.5h2M13 28.5h1M16 28.5h1M19 28.5h2M23 28.5h1M26 28.5h1M29 28.5h1M31 28.5h2M0 29.5h1M2 29.5h3M6 29.5h1M8 29.5h1M11 29.5h2M15 29.5h1M18 29.5h1M21 29.5h2M25 29.5h1M27 29.5h2M32 29.5h1M0 30.5h1M2 30.5h3M6 30.5h1M9 30.5h1M13 30.5h2M17 30.5h1M20 30.5h1M23 30.5h2M26 30.5h1M29 30.5h2M0 31.5h1M6 31.5h1M8 31.5h1M10 31.5h2M15 31.5h2M19 31.5h1M22 31.5h1M25 31.5h2M28 31.5h1M31 31.5h2M0 32.5h7M9 32.5h1M12 32.5h1M14 32.5h1M17 32.5h2M21 32.5h1M24 32.5h1M27 32.5h1M30 32.5h1M32 32.5h1","size":33.4,"filled":false,"opacity":1,"color":"#000000","strokeWidth":2.95},"encoding":{"x":{"datum":578,"axis":null},"y":{"datum":1518.3,"axis":null}}},
{"mark":{"type":"point","shape":"M-24.57 -10.1 L0 -34.66 L24.58 -10.08 L38.88 -24.38 L0 -63.3 L-38.87 -24.43 Z M-63.3 0 L-49 -14.3 L-34.7 0 L-49 14.3 Z M-24.57 10.11 L0 34.67 L24.58 10.09 L38.88 24.39 L0 63.3 L-38.87 24.44 Z M34.7 0 L49 -14.3 L63.3 0 L49 14.3 Z M14.53 0 L0 -14.52 L-14.53 0 L0 14.53 Z","size":0.19,"filled":true,"opacity":1,"color":"#d9d9d9"},"encoding":{"x":{"datum":526,"axis":null},"y":{"datum":1634.5,"axis":null}}},
{"mark":{"type":"text","fontSize":23,"font":"Roboto","color":"#e8e8e8","stroke":"#2a2f38","strokeWidth":0.6},"encoding":{"x":{"datum":545.5,"axis":null},"y":{"datum":1643.3,"axis":null},"text":{"value":"@"}}},
{"mark":{"type":"text","fontSize":25,"font":"Roboto","color":"#e8e8e8","stroke":"#2a2f38","strokeWidth":0.6},"encoding":{"x":{"datum":570,"axis":null},"y":{"datum":1643.3,"axis":null},"text":{"value":"CryMaster12"}}}
]}
]}
